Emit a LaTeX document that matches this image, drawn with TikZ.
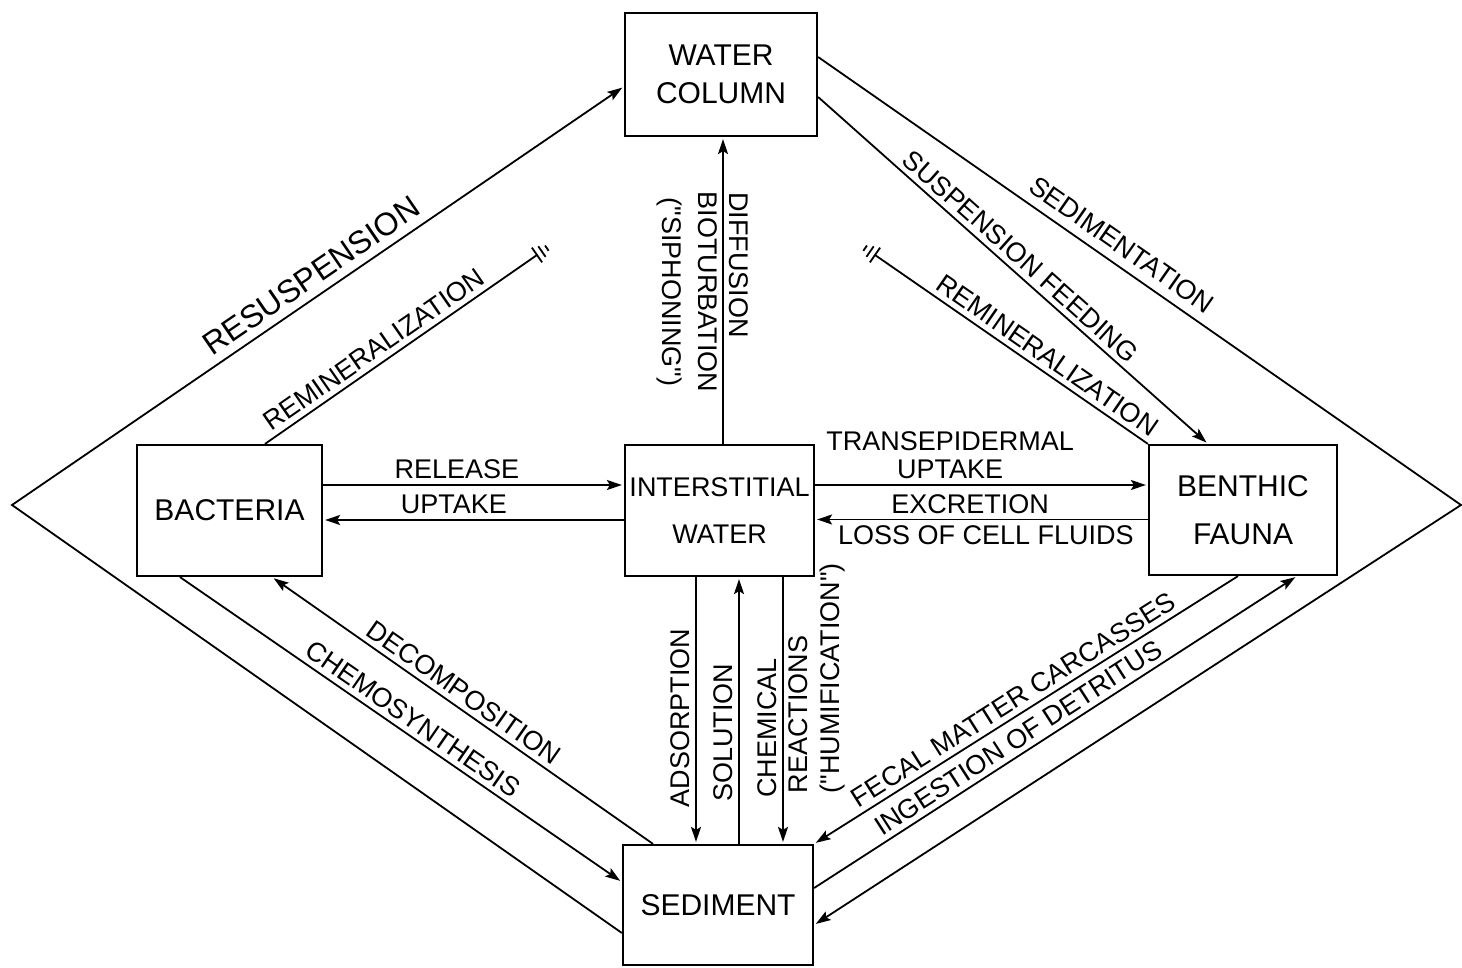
\documentclass[tikz,border=0pt]{standalone}
\usepackage{fontspec}
\setmainfont[Ligatures=TeXOff]{Liberation Sans}
\usetikzlibrary{calc,arrows.meta}

\newcommand{\labfont}{\fontsize{13.5}{14}\selectfont}
\newcommand{\bigfont}{\fontsize{16}{18}\selectfont}
\newcommand{\boxfont}{\fontsize{15}{19}\selectfont}

\begin{document}
\begin{tikzpicture}[x=0.5pt, y=-0.5pt, line width=0.9pt]
    \tikzstyle{box}=[draw, rectangle, line width=1.1pt, inner sep=0pt, align=center, font=\boxfont]
    \tikzstyle{lab}=[font=\labfont, inner sep=1.5pt, outer sep=1.5pt, align=center]
    \tikzstyle{flow}=[-{Stealth[length=7.5pt, width=5pt, inset=1.5pt]}, shorten >=1pt]

    \useasboundingbox (0,0) rectangle (1462,968);

    % compartments
    \node[box, minimum width=96pt, minimum height=61.5pt] (wc) at (721,74.5) {WATER\\COLUMN};
    \node[box, minimum width=92.5pt, minimum height=65.5pt] (bact) at (229.5,510.5) {BACTERIA};
    \node[box, minimum width=94.5pt, minimum height=65.5pt, font={\fontsize{13.5}{23.5}\selectfont}] (inter) at (719.5,510.5) {INTERSTITIAL\\WATER};
    \node[box, minimum width=94pt, minimum height=65pt, font={\fontsize{15}{24}\selectfont}] (benth) at (1243,510) {BENTHIC\\FAUNA};
    \node[box, minimum width=95pt, minimum height=60pt] (sed) at (718,905) {SEDIMENT};

    % free ends
    \coordinate (L) at (12,505);
    \coordinate (R) at (1461,505);
    \coordinate (gL) at (537,255);
    \coordinate (gR) at (875,255);

    \coordinate (l0) at ($(bact.north)+(35.5,0)$);
    \coordinate (m0) at (benth.north west);
    \coordinate (d0) at ($(inter.north)+(3.5,0)$);
    \coordinate (r0) at ($(bact.east)+(0,-25.5)$);
    \coordinate (u0) at ($(inter.west)+(0,9.5)$);
    \coordinate (t0) at ($(inter.east)+(0,-25.5)$);
    \coordinate (e0) at ($(benth.west)+(0,9.5)$);
    \coordinate (a0) at ($(inter.south)+(-23.5,0)$);
    \coordinate (s0) at ($(sed.north)+(21,0)$);
    \coordinate (c0) at ($(inter.south)+(63.5,0)$);

    % outer diamond
    \draw[flow] ($(sed.west)+(0,28)$) -- (L) -- node[lab, sloped, above=1.5pt, pos=0.508, font=\bigfont] {RESUSPENSION} ($(wc.west)+(0,12)$);
    \draw[flow] ($(wc.east)+(0,-17.5)$) -- node[lab, sloped, above=2pt, pos=0.455] {SEDIMENTATION} (R) -- ($(sed.east)+(0,20)$);

    % upper part
    \draw[flow] ($(wc.east)+(0,22.5)$) -- node[lab, sloped, above, pos=0.493] {SUSPENSION FEEDING} ($(benth.north)+(-35,0)$);
    \draw (gR) -- node[lab, sloped, above, pos=0.60] {REMINERALIZATION} (m0);
    \draw (l0) -- node[lab, sloped, above, pos=0.433] {REMINERALIZATION} (gL);
    \draw[flow] (d0) -- node[lab, pos=0.583, rotate=-90, anchor=south] {DIFFUSION}
        node[lab, pos=0.495, rotate=-90, anchor=north] {BIOTURBATION\\[4pt]("SIPHONING")} (d0 |- wc.south);

    % sinks
    \foreach \g/\s in {gL/l0, gR/m0}
        \foreach \gd/\gh in {0/4.5, 3/3.2, 6/1.6}
        {
            \coordinate (gp) at ($(\g)!-\gd pt!(\s)$);
            \draw ($(gp)!\gh pt!90:(\s)$) -- ($(gp)!\gh pt!-90:(\s)$);
        }

    % middle row
    \draw[flow] (r0) -- node[lab, above, pos=0.445] {RELEASE} (r0 -| inter.west);
    \draw[flow] (u0) -- node[lab, above, pos=0.565] {UPTAKE} (u0 -| bact.east);
    \draw[flow] (t0) -- node[lab, above, pos=0.406] {TRANSEPIDERMAL\\UPTAKE} (t0 -| benth.west);
    \draw[flow] (e0) -- node[lab, above, pos=0.534] {EXCRETION}
        node[lab, below, pos=0.487] {LOSS OF CELL FLUIDS} (e0 -| inter.east);

    % lower part
    \draw[flow] ($(bact.south)+(-49.5,0)$) -- node[lab, sloped, above, pos=0.507] {CHEMOSYNTHESIS} ($(sed.west)+(0,-23)$);
    \draw[flow] ($(sed.north)+(-65,0)$) -- node[lab, sloped, above, pos=0.52] {DECOMPOSITION} ($(bact.south)+(42.5,0)$);
    \draw[flow] (a0) -- node[lab, pos=0.528, rotate=90, anchor=south] {ADSORPTION} (a0 |- sed.north);
    \draw[flow] (s0) -- node[lab, pos=0.416, rotate=90, anchor=south] {SOLUTION} (s0 |- inter.south);
    \draw[flow] (c0) -- node[lab, pos=0.565, rotate=90, anchor=south] {CHEMICAL}
        node[lab, pos=0.379, rotate=90, anchor=north, align=left] {REACTIONS\\[2pt]("HUMIFICATION")} (c0 |- sed.north);
    \draw[flow] ($(benth.south)+(-5,0)$) -- node[lab, sloped, above, pos=0.51] {FECAL MATTER CARCASSES} (sed.north east);
    \draw[flow] ($(sed.east)+(0,-17)$) -- node[lab, sloped, above, pos=0.44] {INGESTION OF DETRITUS} ($(benth.south)+(54,0)$);
\end{tikzpicture}
\end{document}
